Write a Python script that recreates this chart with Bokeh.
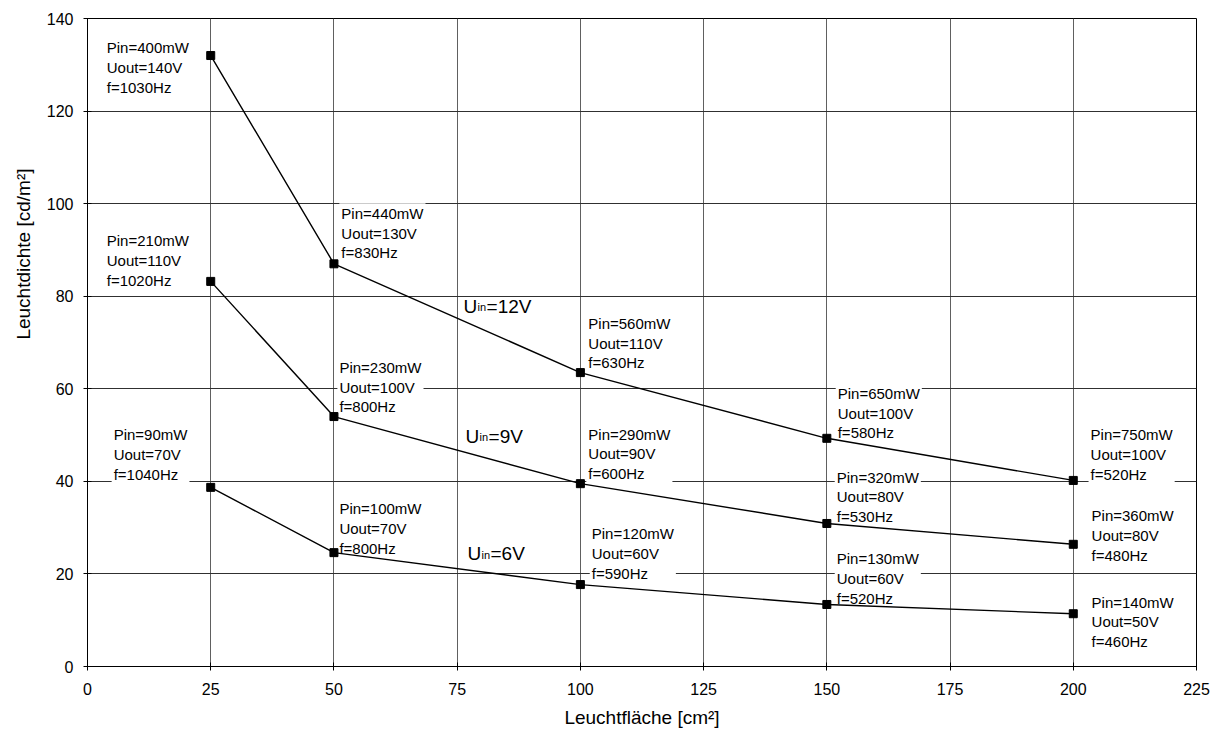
from bokeh.plotting import figure
from bokeh.models import Label, FixedTicker, Range1d, Title
from bokeh.embed import file_html
from bokeh.resources import INLINE

# ---- data ----
area = [25, 50, 100, 150, 200]
lum_12v = [132.0, 87.0, 63.5, 49.3, 40.2]
lum_9v = [83.2, 54.0, 39.5, 30.9, 26.4]
lum_6v = [38.7, 24.6, 17.7, 13.4, 11.4]

pin_12v = [400, 440, 560, 650, 750]
uout_12v = [140, 130, 110, 100, 100]
freq_12v = [1030, 830, 630, 580, 520]

pin_9v = [210, 230, 290, 320, 360]
uout_9v = [110, 100, 90, 80, 80]
freq_9v = [1020, 800, 600, 530, 480]

pin_6v = [90, 100, 120, 130, 140]
uout_6v = [70, 70, 60, 60, 50]
freq_6v = [1040, 800, 590, 520, 460]

series_names = ["12V", "9V", "6V"]
x_ticks = [0, 25, 50, 75, 100, 125, 150, 175, 200, 225]
y_ticks = [0, 20, 40, 60, 80, 100, 120, 140]
x_title = "Leuchtfläche [cm²]"
y_title = "Leuchtdichte [cd/m²]"

# ---- layout (label anchor positions, data coords of top-left) ----
label_pos_12v = [(3.5, 135.9), (51.1, 100.1), (101.2, 76.3), (151.8, 61.2), (203.1, 52.3)]
label_pos_9v = [(3.5, 94.2), (50.7, 66.8), (101.2, 52.5), (151.6, 43.2), (203.3, 34.8)]
label_pos_6v = [(4.9, 52.3), (50.7, 36.3), (101.9, 30.9), (151.6, 25.5), (203.3, 16.2)]
uin_pos = [(76.3, 77.8), (76.7, 49.7), (77.1, 24.4)]

FONT = "Liberation Sans"

p = figure(width=1210, height=734, output_backend="svg", toolbar_location=None,
           x_range=Range1d(0, 225), y_range=Range1d(0, 140),
           min_border_left=87, min_border_right=14, min_border_top=18, min_border_bottom=68)
p.background_fill_color = "white"
p.border_fill_color = "white"
p.outline_line_color = "black"
p.outline_line_width = 1

for ax in (p.xaxis[0], p.yaxis[0]):
    ax.major_label_text_font = FONT
    ax.major_label_text_font_size = "16px"
    ax.major_label_text_color = "black"
    ax.axis_label_text_font = FONT
    ax.axis_label_text_font_size = "19px"
    ax.axis_label_text_font_style = "normal"
    ax.axis_label_text_color = "black"
    ax.axis_line_color = "black"
    ax.major_tick_line_color = "black"
    ax.major_tick_in = 4
    ax.major_tick_out = 4
    ax.minor_tick_line_color = None

p.xaxis.ticker = FixedTicker(ticks=x_ticks)
p.yaxis.ticker = FixedTicker(ticks=y_ticks)
p.xaxis.axis_label = x_title
p.xaxis.major_label_standoff = 12
p.yaxis.major_label_standoff = 10
p.xaxis.axis_label_standoff = 9

p.xgrid.ticker = FixedTicker(ticks=x_ticks)
p.ygrid.ticker = FixedTicker(ticks=y_ticks)
p.xgrid.grid_line_color = "#606060"
p.ygrid.grid_line_color = "#303030"
p.xgrid.grid_line_width = 1
p.ygrid.grid_line_width = 1

# y axis title (placed off-centre as in the original)
p.add_layout(Title(text=y_title, align="right", offset=150, standoff=19,
                   text_font=FONT, text_font_size="19px", text_font_style="normal",
                   text_color="black"), "left")

# annotation boxes (white background, under the data lines)
all_series = [
    (lum_12v, pin_12v, uout_12v, freq_12v, label_pos_12v),
    (lum_9v, pin_9v, uout_9v, freq_9v, label_pos_9v),
    (lum_6v, pin_6v, uout_6v, freq_6v, label_pos_6v),
]
for lum, pin, uout, freq, pos in all_series:
    for i in range(len(area)):
        txt = f"Pin={pin[i]}mW\nUout={uout[i]}V\nf={freq[i]}Hz"
        lx, ly = pos[i]
        lab = Label(x=lx, y=ly, text=txt, anchor="top_left",
                    text_font=FONT, text_font_size="15px", text_color="black",
                    text_line_height=1.15,
                    background_fill_color="white", background_fill_alpha=1.0,
                    padding=2, level="underlay")
        p.add_layout(lab)

for lum, pin, uout, freq, pos in all_series:
    p.line(area, lum, line_color="black", line_width=1.4)
    p.scatter(area, lum, marker="square", size=8, fill_color="black", line_color="black")

# U_in labels
for name, (ux, uy) in zip(series_names, uin_pos):
    p.add_layout(Label(x=ux, y=uy, text="U", text_baseline="alphabetic",
                       text_font=FONT, text_font_size="19px", text_color="black"))
    p.add_layout(Label(x=ux, y=uy, x_offset=14, y_offset=-1, text="in", text_baseline="alphabetic",
                       text_font=FONT, text_font_size="11px", text_color="black"))
    p.add_layout(Label(x=ux, y=uy, x_offset=23, text="=" + name, text_baseline="alphabetic",
                       text_font=FONT, text_font_size="19px", text_color="black"))

open("out.html", "w").write(file_html(p, INLINE))
